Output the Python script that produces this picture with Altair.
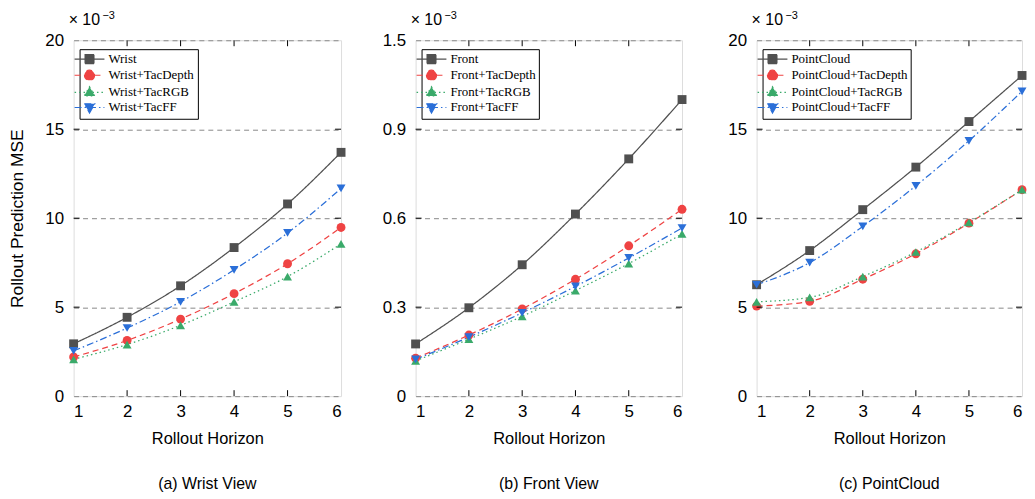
import altair as alt
import pandas as pd

# ---------------- data (values x 1e-3) ----------------
horizon = [1, 2, 3, 4, 5, 6]

wrist_names = ["Wrist", "Wrist+TacDepth", "Wrist+TacRGB", "Wrist+TacFF"]
wrist_base = [2.94, 4.43, 6.20, 8.35, 10.80, 13.70]
wrist_depth = [2.20, 3.13, 4.33, 5.76, 7.44, 9.48]
wrist_rgb = [2.07, 2.90, 3.98, 5.30, 6.72, 8.56]
wrist_ff = [2.54, 3.83, 5.30, 7.10, 9.17, 11.67]

front_names = ["Front", "Front+TacDepth", "Front+TacRGB", "Front+TacFF"]
front_base = [0.176, 0.298, 0.443, 0.614, 0.800, 1.000]
front_depth = [0.128, 0.206, 0.294, 0.394, 0.507, 0.630]
front_rgb = [0.119, 0.192, 0.269, 0.356, 0.447, 0.547]
front_ff = [0.124, 0.199, 0.281, 0.370, 0.466, 0.567]

pc_names = ["PointCloud", "PointCloud+TacDepth", "PointCloud+TacRGB", "PointCloud+TacFF"]
pc_base = [6.26, 8.18, 10.48, 12.87, 15.43, 18.02]
pc_depth = [5.06, 5.33, 6.57, 8.00, 9.72, 11.60]
pc_rgb = [5.30, 5.55, 6.72, 8.10, 9.76, 11.60]
pc_ff = [6.26, 7.50, 9.54, 11.82, 14.35, 17.13]

y_ticks_20 = [0, 5, 10, 15, 20]
y_labels_20 = ["0", "5", "10", "15", "20"]
y_ticks_front = [0, 0.3, 0.6, 0.9, 1.2]
y_labels_front = ["0", "0.3", "0.6", "0.9", "1.5"]

captions = ["(a) Wrist View", "(b) Front View", "(c) PointCloud"]

# ---------------- styles ----------------
COLORS = ["#505050", "#EF4343", "#3AAA6A", "#2B6FD8"]
DASHES = [[1, 0], [6, 4], [1.5, 3], [7, 3, 1.5, 3]]
SHAPES = ["square", "circle", "triangle-up", "triangle-down"]
# legend glyphs: short line with the marker in the middle (unit = 6 px)
LEG_SHAPES = [
    "M-2.5,0H2.5M-0.75,-0.75H0.75V0.75H-0.75Z",
    "M-2.5,0H2.5M0.85,0A0.85,0.85 0 1,1 -0.85,0A0.85,0.85 0 1,1 0.85,0Z",
    "M-2.5,0H2.5M0,-0.95L0.9,0.62L-0.9,0.62Z",
    "M-2.5,0H2.5M0,0.95L0.9,-0.62L-0.9,-0.62Z",
]
SANS = "Liberation Sans"
SERIF = "Liberation Serif"
H = 358


def label_expr(ticks, labels):
    expr = "''"
    for t, l in reversed(list(zip(ticks, labels))):
        expr = f"datum.value == {t} ? '{l}' : ({expr})"
    return expr


def panel(names, series, y_ticks, y_labels, caption, width, ytitle):
    rows = []
    for n, vals in zip(names, series):
        for h, v in zip(horizon, vals):
            rows.append({"h": h, "mse": v, "series": n})
    df = pd.DataFrame(rows)

    x = alt.X("h:Q", scale=alt.Scale(domain=[1, 6], nice=False),
              axis=alt.Axis(values=horizon, format="d", title="Rollout Horizon",
                            ticks=False, domain=False, grid=False,
                            labelFont=SANS, labelFontSize=17, labelColor="black",
                            labelPadding=7, titleFont=SANS, titleFontSize=16.5,
                            titleFontWeight="normal", titleColor="black", titlePadding=12))
    y_axis_kw = dict(values=y_ticks, labelExpr=label_expr(y_ticks, y_labels),
                     ticks=False, domain=False, grid=True, gridColor="#888888",
                     gridDash=[5, 4], gridWidth=1,
                     labelFont=SANS, labelFontSize=17, labelColor="black", labelPadding=10)
    if ytitle:
        y_axis_kw.update(title=ytitle, titleFont=SANS, titleFontSize=17.5,
                         titleFontWeight="normal", titleColor="black", titlePadding=18)
    else:
        y_axis_kw.update(title=None)
    y = alt.Y("mse:Q", scale=alt.Scale(domain=[y_ticks[0], y_ticks[-1]], nice=False),
              axis=alt.Axis(**y_axis_kw))

    layers = []
    for i, n in enumerate(names):
        base = alt.Chart(df).transform_filter(alt.datum.series == n)
        layers.append(base.mark_line(interpolate="monotone", strokeWidth=1.25,
                                     color=COLORS[i], strokeDash=DASHES[i]).encode(x=x, y=y))
    for i, n in enumerate(names):
        base = alt.Chart(df).transform_filter(alt.datum.series == n)
        layers.append(base.mark_point(filled=True, size=80, opacity=1, color=COLORS[i],
                                      shape=SHAPES[i]).encode(x=x, y=y))

    # legend-only layer (invisible marks, inside the plot)
    legend = alt.Legend(title=None, orient="none", legendX=6, legendY=9,
                        strokeColor="black", fillColor="white", padding=3,
                        labelFont=SERIF, labelFontSize=13, labelColor="black",
                        symbolSize=144, symbolOpacity=1, symbolStrokeWidth=1.1,
                        rowPadding=1.2, labelOffset=12, cornerRadius=0)
    leg = alt.Chart(df).transform_filter(alt.datum.h == 3).mark_point(
        filled=True, opacity=0, size=144).encode(
        x=x, y=y,
        color=alt.Color("series:N", scale=alt.Scale(domain=names, range=COLORS),
                        sort=names, legend=legend),
        stroke=alt.Stroke("series:N", scale=alt.Scale(domain=names, range=COLORS),
                          sort=names, legend=legend),
        shape=alt.Shape("series:N", scale=alt.Scale(domain=names, range=LEG_SHAPES),
                        sort=names, legend=legend),
        strokeDash=alt.StrokeDash("series:N", scale=alt.Scale(domain=names, range=DASHES),
                                  sort=names, legend=legend),
    )
    layers.append(leg)

    xt = pd.DataFrame({"h": horizon[1:-1]})
    yt = pd.DataFrame({"mse": y_ticks[1:-1]})
    rule_kw = dict(color="black", strokeWidth=1)
    xs = alt.X("h:Q")
    ys = alt.Y("mse:Q")
    layers += [
        alt.Chart(xt).mark_rule(**rule_kw).encode(x=xs, y=alt.value(H), y2=alt.value(H - 6)),
        alt.Chart(xt).mark_rule(**rule_kw).encode(x=xs, y=alt.value(0), y2=alt.value(6)),
        alt.Chart(yt).mark_rule(**rule_kw).encode(y=ys, x=alt.value(0), x2=alt.value(6)),
        alt.Chart(yt).mark_rule(**rule_kw).encode(y=ys, x=alt.value(width - 6), x2=alt.value(width)),
        alt.Chart(pd.DataFrame({"t": ["× 10"]})).mark_text(
            font=SANS, fontSize=16, align="left", baseline="alphabetic", color="black").encode(
            text="t:N", x=alt.value(-5), y=alt.value(-15)),
        alt.Chart(pd.DataFrame({"t": ["−3"]})).mark_text(
            font=SANS, fontSize=11, align="left", baseline="alphabetic", color="black").encode(
            text="t:N", x=alt.value(29), y=alt.value(-21)),
    ]

    return alt.layer(*layers).properties(
        width=width, height=H,
        title=alt.TitleParams(caption, orient="bottom", font=SANS, fontSize=16,
                              fontWeight="normal", color="black", offset=29))


p1 = panel(wrist_names, [wrist_base, wrist_depth, wrist_rgb, wrist_ff],
           y_ticks_20, y_labels_20, captions[0], 269, "Rollout Prediction MSE")
p2 = panel(front_names, [front_base, front_depth, front_rgb, front_ff],
           y_ticks_front, y_labels_front, captions[1], 268, None)
p3 = panel(pc_names, [pc_base, pc_depth, pc_rgb, pc_ff],
           y_ticks_20, y_labels_20, captions[2], 267, None)

chart = alt.hconcat(p1, p2, p3, spacing=75, bounds="flush").resolve_scale(
    color="independent", stroke="independent", shape="independent", strokeDash="independent"
).resolve_legend(
    color="independent", stroke="independent", shape="independent", strokeDash="independent"
).configure_view(stroke="black", strokeWidth=1.2).configure(
    background="white", padding={"top": 0, "left": 0, "right": 0, "bottom": 0})

chart.save("out.html", embed_options={"renderer": "svg", "actions": False})
